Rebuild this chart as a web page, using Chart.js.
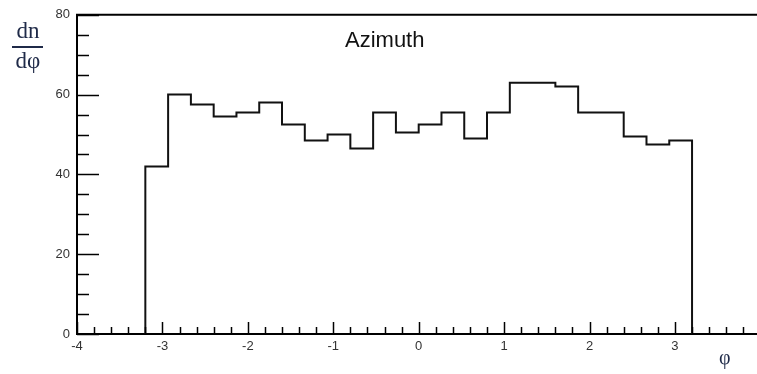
<!DOCTYPE html>
<html>
<head>
<meta charset="utf-8">
<script src="https://cdn.jsdelivr.net/npm/chart.js@4.4.1/dist/chart.umd.min.js"></script>
<style>
  html, body { margin: 0; padding: 0; background: #fff; overflow: hidden; width: 757px; height: 374px; }
  #wrap { position: absolute; left: 0; top: 0; width: 769px; height: 374px; }
  .lbl { position: absolute; white-space: nowrap; }
</style>
</head>
<body>
<div id="wrap"><canvas id="c" width="769" height="374"></canvas></div>
<div class="lbl" style="left:12px;top:18px;font-family:'Liberation Serif',serif;font-size:23px;color:#1f2a48;width:32px;text-align:center;">dn</div>
<div class="lbl" style="left:12px;top:46px;width:31px;height:2px;background:#1f2a48;"></div>
<div class="lbl" style="left:12px;top:48px;font-family:'Liberation Serif',serif;font-size:23px;color:#1f2a48;width:32px;text-align:center;">dφ</div>
<div class="lbl" style="left:345px;top:27px;font-family:'Liberation Sans',Arial,sans-serif;font-size:22px;color:#111;">Azimuth</div>
<div class="lbl" style="left:719px;top:346px;font-family:'Liberation Serif',serif;font-size:20px;color:#1f2a48;">φ</div>
<script>
// Histogram: 24 bins spanning [-3.2, 3.2]
const binLow = -3.2;
const binHigh = 3.2;
const counts = [42, 60, 57.5, 54.5, 55.5, 58, 52.5, 48.5, 50, 46.5, 55.5, 50.5,
                52.5, 55.5, 49, 55.5, 63, 63, 62, 55.5, 55.5, 49.5, 47.5, 48.5];
const xTickLabels = [-4, -3, -2, -1, 0, 1, 2, 3, 4];
const yTickLabels = [0, 20, 40, 60, 80];

const binW = (binHigh - binLow) / counts.length;
const pts = [{x: binLow, y: 0}];
counts.forEach((v, i) => {
  pts.push({x: binLow + i * binW, y: v});
  pts.push({x: binLow + (i + 1) * binW, y: v});
});
pts.push({x: binHigh, y: 0});

const frameTicks = {
  id: 'frameTicks',
  afterDraw(chart) {
    const ctx = chart.ctx, xs = chart.scales.x, ys = chart.scales.y, a = chart.chartArea;
    ctx.save();
    ctx.strokeStyle = '#000';
    ctx.lineWidth = 2;
    ctx.beginPath();
    ctx.moveTo(a.left - 1, a.top);
    ctx.lineTo(chart.width, a.top);
    ctx.stroke();
    ctx.lineWidth = 1.5;
    for (let k = -20; k <= 20; k++) {
      const v = k * 0.2;
      const px = Math.round(xs.getPixelForValue(v)) + 0.5;
      const len = (k % 5 === 0) ? 12 : 7;
      ctx.beginPath();
      ctx.moveTo(px, a.bottom);
      ctx.lineTo(px, a.bottom - len);
      ctx.stroke();
    }
    for (let v = 0; v <= 80; v += 5) {
      const py = Math.round(ys.getPixelForValue(v)) + 0.5;
      const len = (v % 20 === 0) ? 22 : 12;
      ctx.beginPath();
      ctx.moveTo(a.left, py);
      ctx.lineTo(a.left + len, py);
      ctx.stroke();
    }
    ctx.restore();
  }
};

new Chart(document.getElementById('c'), {
  type: 'line',
  data: {
    datasets: [{
      data: pts,
      borderColor: '#111',
      borderWidth: 2,
      pointRadius: 0,
      tension: 0,
      fill: false
    }]
  },
  options: {
    responsive: false,
    animation: false,
    events: [],
    layout: { padding: { top: 13, right: 3, left: 0, bottom: 0 } },
    plugins: { legend: { display: false }, tooltip: { enabled: false } },
    scales: {
      x: {
        type: 'linear',
        min: -4, max: 4,
        afterFit(s) { s.height = 40; },
        afterBuildTicks(s) { s.ticks = xTickLabels.map(v => ({value: v})); },
        grid: { display: false, drawTicks: false },
        border: { display: true, color: '#000', width: 2 },
        ticks: {
          padding: 5,
          color: '#333',
          font: { family: "'Liberation Sans', Arial, sans-serif", size: 13 },
          maxRotation: 0,
          callback: v => String(v)
        }
      },
      y: {
        min: 0, max: 80,
        afterFit(s) { s.width = 77; },
        afterBuildTicks(s) { s.ticks = yTickLabels.map(v => ({value: v})); },
        grid: { display: false, drawTicks: false },
        border: { display: true, color: '#000', width: 2 },
        ticks: {
          padding: 7,
          color: '#333',
          font: { family: "'Liberation Sans', Arial, sans-serif", size: 13 },
          callback: v => String(v)
        }
      }
    }
  },
  plugins: [frameTicks]
});
</script>
</body>
</html>
